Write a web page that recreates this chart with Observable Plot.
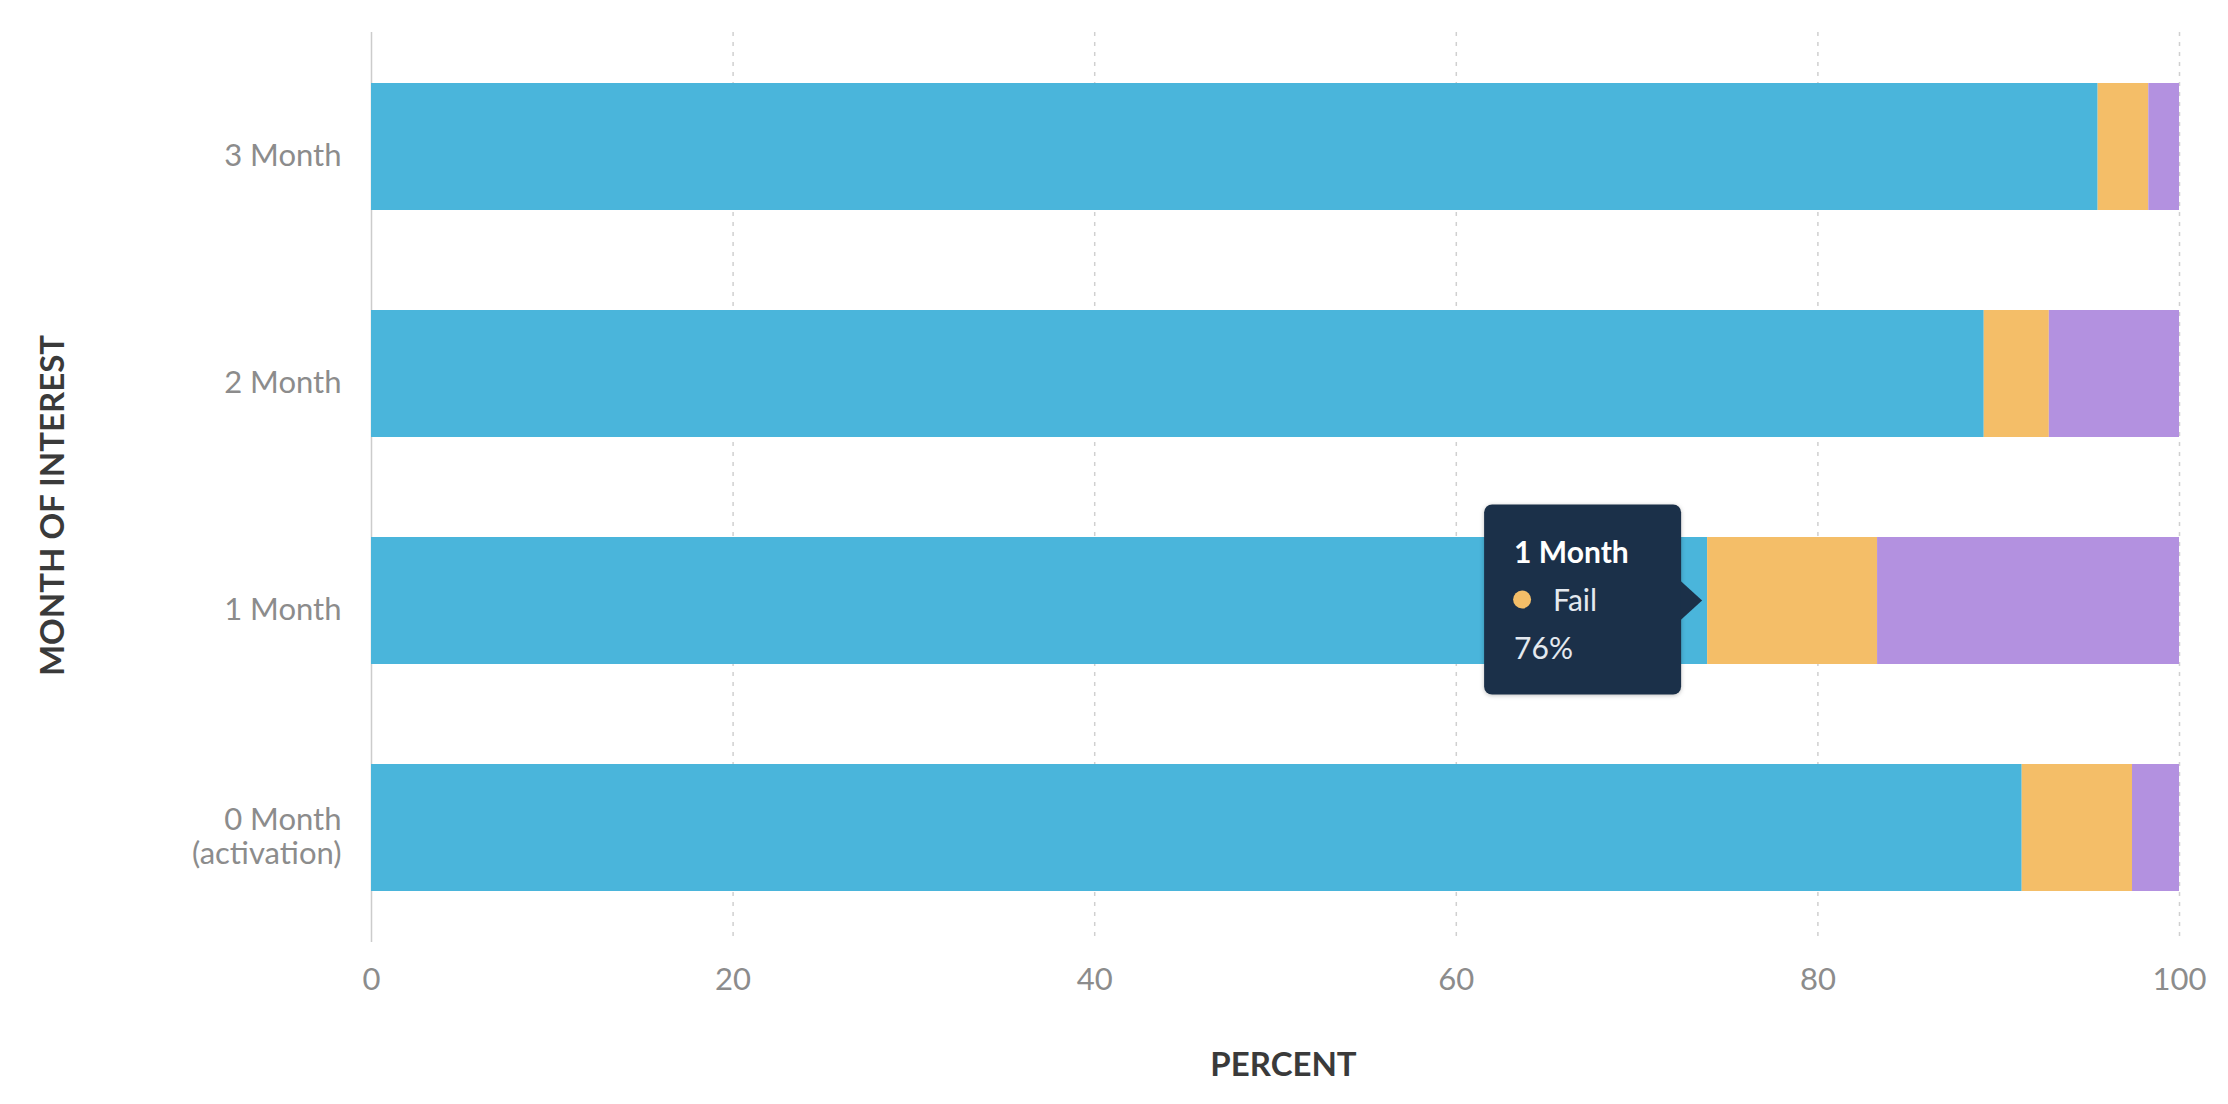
<!DOCTYPE html>
<html>
<head>
<meta charset="utf-8">
<script src="https://cdn.jsdelivr.net/npm/d3@7"></script>
<script src="https://cdn.jsdelivr.net/npm/@observablehq/plot@0.6"></script>
<style>
  html, body { margin: 0; padding: 0; background: #fff; }
  #chart svg { display: block; }
</style>
</head>
<body>
<div id="chart"></div>
<script>
// Share of results per month of interest (stacked to 100%)
const months = ["3 Month", "2 Month", "1 Month", "0 Month\n(activation)"];
const seriesNames = ["Pass", "Fail", "Untested"];
const seriesColors = ["#4AB5DB", "#F4BE68", "#B391E0"];
const passValues = [95.5, 89.2, 73.9, 91.3];
const failValues = [2.8, 3.6, 9.4, 6.1];
const untestedValues = [1.7, 7.2, 16.7, 2.6];
const percentTicks = [0, 20, 40, 60, 80, 100];

// Hover card shown next to the "1 Month" bar
const tooltipMonth = "1 Month";
const tooltipSeries = "Fail";
const tooltipLabel = "76%";

const rows = [];
months.forEach((month, i) => {
  rows.push({month, series: seriesNames[0], value: passValues[i]});
  rows.push({month, series: seriesNames[1], value: failValues[i]});
  rows.push({month, series: seriesNames[2], value: untestedValues[i]});
});

// Custom mark: dark card with a pointer, anchored where the tooltip series starts
function tooltipCard(index, scales) {
  const i = months.indexOf(tooltipMonth);
  const ax = scales.x(passValues[i]);
  const bw = scales.y.bandwidth ? scales.y.bandwidth() : 0;
  const ay = scales.y(tooltipMonth) + bw / 2;
  const w = 197, h = 190;
  const right = ax - 26, left = right - w, top = ay - 96;
  const bg = "#1B3049";
  const g = d3.create("svg:g")
    .attr("font-family", "Lato, sans-serif")
    .attr("text-anchor", "start");
  g.append("rect")
    .attr("x", left).attr("y", top).attr("width", w).attr("height", h)
    .attr("rx", 8).attr("fill", bg)
    .style("filter", "drop-shadow(0px 1px 2px rgba(0,0,0,0.25))");
  g.append("path")
    .attr("d", `M${right - 1},${ay - 20}L${ax - 5},${ay}L${right - 1},${ay + 20}Z`)
    .attr("fill", bg);
  g.append("text")
    .attr("x", left + 30).attr("y", ay - 38)
    .attr("fill", "#ffffff").attr("font-size", 30).attr("font-weight", 700)
    .text(tooltipMonth);
  g.append("circle")
    .attr("cx", left + 38).attr("cy", ay - 1).attr("r", 9)
    .attr("fill", seriesColors[seriesNames.indexOf(tooltipSeries)]);
  g.append("text")
    .attr("x", left + 69).attr("y", ay + 10)
    .attr("fill", "#e4e9ef").attr("font-size", 30)
    .text(tooltipSeries);
  g.append("text")
    .attr("x", left + 30).attr("y", ay + 58)
    .attr("fill", "#e4e9ef").attr("font-size", 30)
    .text(tooltipLabel);
  return g.node();
}

const chart = Plot.plot({
  width: 2228,
  height: 1104,
  marginLeft: 371,
  marginRight: 49,
  marginTop: 32,
  marginBottom: 162,
  style: {fontFamily: "Lato, sans-serif", fontSize: "31px", color: "#8c8c8c", background: "#ffffff"},
  x: {domain: [0, 100]},
  y: {domain: months, paddingInner: 0.44, paddingOuter: 0.22},
  color: {domain: seriesNames, range: seriesColors},
  marks: [
    Plot.ruleX(percentTicks.filter((t) => t > 0), {stroke: "#d0d0d0", strokeWidth: 1.5, strokeDasharray: "4,6"}),
    Plot.ruleX(percentTicks.filter((t) => t === 0), {stroke: "#cccccc", strokeWidth: 1.5}),
    Plot.barX(rows, Plot.stackX({x: "value", y: "month", fill: "series"})),
    Plot.axisX({ticks: percentTicks, tickSize: 0, tickPadding: 25, label: null}),
    Plot.axisY({tickSize: 0, tickPadding: 30, label: null, lineHeight: 1.1, dy: 8}),
    Plot.text(["PERCENT"], {
      text: (d) => d, frameAnchor: "bottom", dx: 8, dy: 123,
      textAnchor: "middle", lineAnchor: "middle",
      fill: "#3a3a3a", fontWeight: 700, fontSize: 33, letterSpacing: "6px"
    }),
    Plot.text(["MONTH OF INTEREST"], {
      text: (d) => d, frameAnchor: "left", dx: -318, dy: 18, rotate: -90,
      textAnchor: "middle", lineAnchor: "middle",
      fill: "#3a3a3a", fontWeight: 700, fontSize: 33, letterSpacing: "5px"
    }),
    tooltipCard
  ]
});

document.getElementById("chart").appendChild(chart);
</script>
</body>
</html>
